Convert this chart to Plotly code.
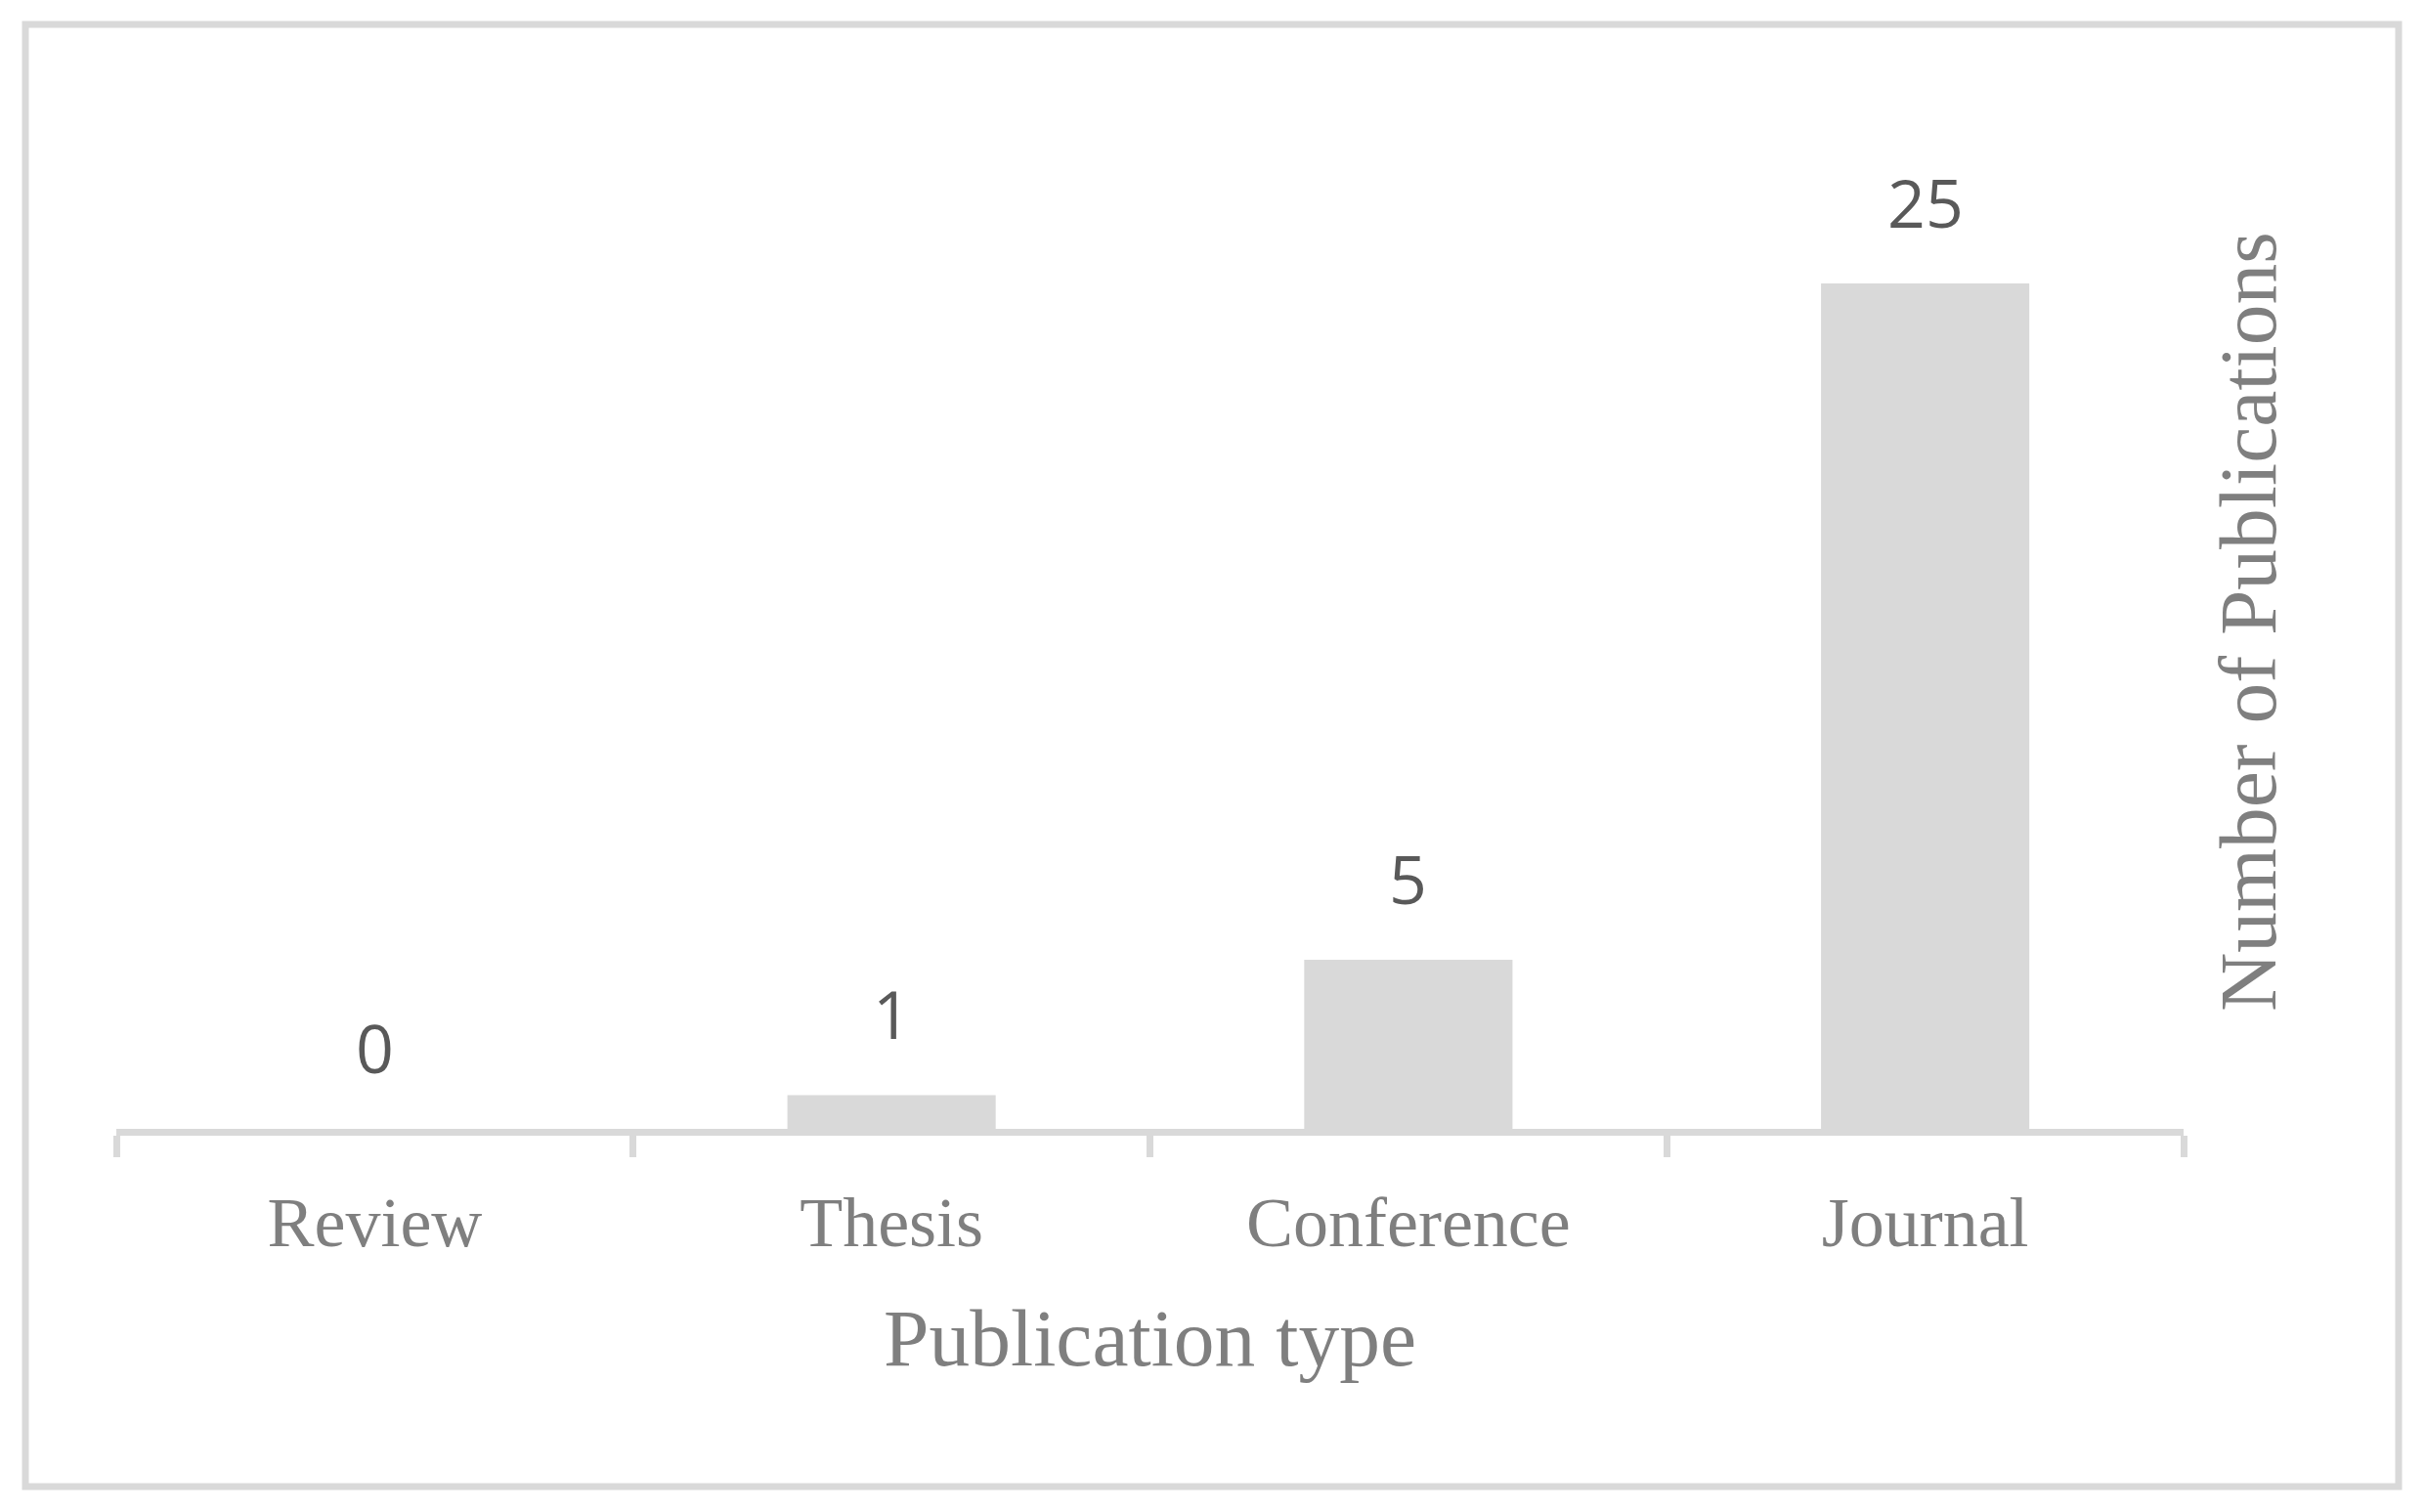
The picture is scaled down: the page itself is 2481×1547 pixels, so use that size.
import plotly.graph_objects as go

categories = ["Review", "Thesis", "Conference", "Journal"]
publications = [0, 1, 5, 25]
x_title = "Publication type"
y_title = "Number of Publications"

BAR = "#d9d9d9"
AXIS_TXT = "#7f7f7f"
LBL_TXT = "#595959"
SERIF = "Liberation Serif"
SANS = "Open Sans"

W, H = 2481, 1547
ml, mr, mb = 119, 247, 392
ph = 1038
mt = H - mb - ph
pw = W - ml - mr

fig = go.Figure()
fig.add_trace(go.Bar(
    x=categories, y=publications,
    marker=dict(color=BAR, line=dict(width=0)),
    hoverinfo="x+y",
))

# data labels above each bar
for c, v in zip(categories, publications):
    fig.add_annotation(
        x=c, y=v, xref="x", yref="y",
        text=str(v), showarrow=False,
        yanchor="middle", yshift=84,
        font=dict(family=SANS, size=68, color=LBL_TXT),
    )

# vertical axis title on the right
fig.add_annotation(
    x=(2300 - ml) / pw, y=0.5, xref="paper", yref="paper",
    text=y_title, showarrow=False, textangle=-90,
    xanchor="center", yanchor="middle",
    font=dict(family=SERIF, size=83.5, color=AXIS_TXT),
)

# outer chart border
fig.add_shape(
    type="rect", xref="paper", yref="paper",
    x0=(26 - ml) / pw, x1=(2454 - ml) / pw,
    y0=(H - mb - 1521) / ph, y1=(H - mb - 25) / ph,
    line=dict(color=BAR, width=7), fillcolor="rgba(0,0,0,0)", layer="below",
)

fig.update_layout(
    width=W, height=H,
    margin=dict(l=ml, r=mr, t=mt, b=mb, pad=0),
    paper_bgcolor="white", plot_bgcolor="white",
    bargap=0.597,
    showlegend=False,
    xaxis=dict(
        type="category",
        showline=True, linecolor=BAR, linewidth=7,
        ticks="outside", tickson="boundaries", ticklen=22, tickwidth=7, tickcolor=BAR,
        showgrid=False, zeroline=False,
        tickfont=dict(family=SERIF, size=72, color=AXIS_TXT),
        ticklabelstandoff=27,
        title=dict(text=x_title, font=dict(family=SERIF, size=83.5, color=AXIS_TXT), standoff=51),
    ),
    yaxis=dict(
        range=[0, max(publications) * 1.2],
        visible=False, showgrid=False, zeroline=False,
    ),
)

fig.write_html(
    "out.html",
    config={"displayModeBar": False},
    post_script="document.body.style.margin='0';document.body.style.overflow='hidden';",
)
